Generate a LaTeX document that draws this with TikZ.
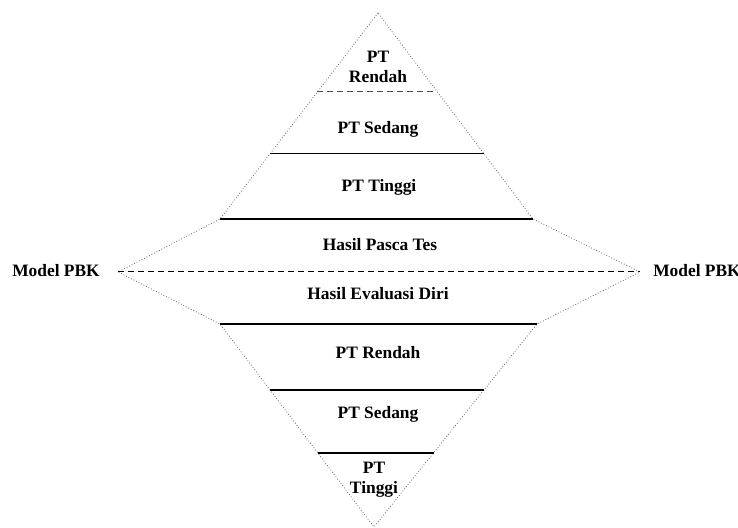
\documentclass[tikz,border=0pt]{standalone}
\usepackage{fontspec}
\setmainfont{Liberation Serif}
\usepackage{tikz}
\usetikzlibrary{positioning, calc}

\begin{document}
\begin{tikzpicture}[x=0.5pt, y=-0.5pt, every node/.style={font=\fontsize{8.7}{10}\selectfont\bfseries},
    level/.style={align=center, inner sep=1pt},
    side/.style={densely dotted, line width=0.4pt, black!60},
    divider/.style={line width=0.6pt},
    heavy/.style={line width=1.2pt}]
    \useasboundingbox (0,0) rectangle (738,528);
    % outline corners
    \coordinate (top) at (378,13);
    \coordinate (ul) at (220,219);
    \coordinate (ur) at (533,219);
    \coordinate (lft) at (118,272);
    \coordinate (rgt) at (640,272);
    \coordinate (ll) at (220,324);
    \coordinate (lr) at (537,324);
    \coordinate (bot) at (374,527);
    \draw[side] (top) -- (ul) -- (lft) -- (ll) -- (bot) -- (lr) -- (rgt) -- (ur) -- cycle;
    % upper half
    \node[level] (ren1) at (378,67) {PT\\Rendah};
    \node[level] (sed1) at (378,129) {PT Sedang};
    \node[level] (tin1) at (379,187) {PT Tinggi};
    \node[level] (pasca) at (380,245) {Hasil Pasca Tes};
    % lower half
    \node[level] (eval) at (378,294) {Hasil Evaluasi Diri};
    \node[level] (ren2) at (378,353) {PT Rendah};
    \node[level] (sed2) at (378,414) {PT Sedang};
    \node[level] (tin2) at (374,480) {PT\\Tinggi};
    % model labels
    \node (pbkL) at (56,271) {Model PBK};
    \node (pbkR) at (697,271) {Model PBK};
    \draw[densely dashed, line width=0.5pt] (lft) -- (rgt);
    % dividers
    \draw[divider, densely dashed, black!70] ($(top)!0.383!(ul)$) -- ($(top)!0.383!(ur)$);
    \draw[divider] ($(top)!0.684!(ul)$) -- ($(top)!0.684!(ur)$);
    \draw[divider] (ul) -- (ur);
    \draw[heavy] (ll) -- (lr);
    \draw[divider] ($(ll)!0.325!(bot)$) -- ($(lr)!0.325!(bot)$);
    \draw[heavy] ($(ll)!0.635!(bot)$) -- ($(lr)!0.635!(bot)$);
\end{tikzpicture}
\end{document}
